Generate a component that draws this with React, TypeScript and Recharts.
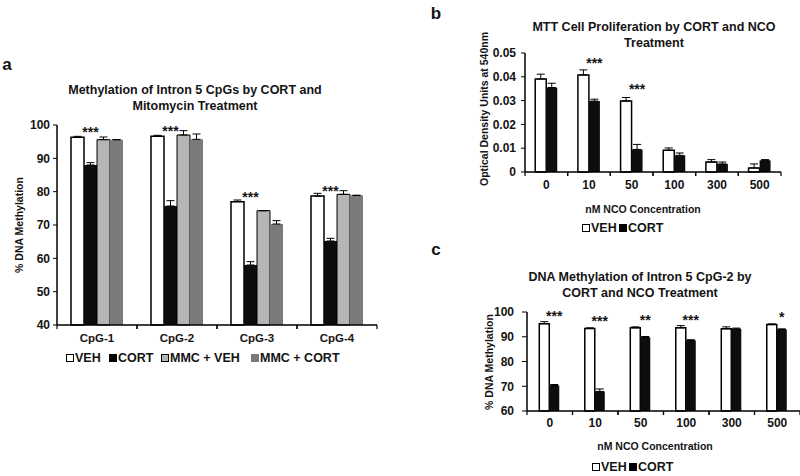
import React from 'react'
import { BarChart, Bar, XAxis, YAxis, ErrorBar, LabelList } from 'recharts'

const FONT = '"Liberation Sans", Arial, sans-serif'
const INK = '#141414'
const LIGHT = '#b5b5b5'
const MID = '#7a7a7a'

// panel a – methylation of intron 5 CpGs
const cpgSites = ['CpG-1', 'CpG-2', 'CpG-3', 'CpG-4']
const vehA = [96.3, 96.6, 77.0, 78.7]
const vehAErr = [0.3, 0.3, 0.5, 0.8]
const cortA = [88.0, 75.7, 58.0, 65.2]
const cortAErr = [0.7, 1.6, 1.0, 0.8]
const mmcVehA = [95.6, 97.0, 74.3, 79.2]
const mmcVehAErr = [0.8, 1.3, 0, 1.1]
const mmcCortA = [95.6, 95.7, 70.3, 78.9]
const mmcCortAErr = [0, 1.6, 1.0, 0]
const sigA = ['***', '***', '***', '***']
const ticksA = [40, 50, 60, 70, 80, 90, 100]

// panel b – MTT proliferation
const ncoDoses = ['0', '10', '50', '100', '300', '500']
const vehB = [0.0391, 0.0408, 0.0298, 0.0091, 0.0042, 0.0017]
const vehBErr = [0.002, 0.0021, 0.0015, 0.001, 0.001, 0.0017]
const cortB = [0.0355, 0.0298, 0.0095, 0.007, 0.0034, 0.0049]
const cortBErr = [0.0018, 0.0008, 0.0021, 0.001, 0.0008, 0.0003]
const sigB = ['', '***', '***', '', '', '']
const ticksB = [0, 0.01, 0.02, 0.03, 0.04, 0.05]

// panel c – CpG-2 methylation with NCO
const vehC = [95.3, 93.3, 93.6, 93.6, 93.2, 94.9]
const vehCErr = [0.8, 0.3, 0.4, 0.9, 0.8, 0.3]
const cortC = [70.3, 67.9, 89.7, 88.5, 93.2, 92.9]
const cortCErr = [0.4, 1.0, 0.4, 0.3, 0.3, 0.3]
const sigC = ['***', '***', '**', '***', '', '*']
const ticksC = [60, 70, 80, 90, 100]

const dataA = cpgSites.map((name, i) => ({
  name,
  veh: vehA[i], vehErr: [0, vehAErr[i]],
  cort: cortA[i], cortErr: [0, cortAErr[i]],
  mmcVeh: mmcVehA[i], mmcVehErr: [0, mmcVehAErr[i]],
  mmcCort: mmcCortA[i], mmcCortErr: [0, mmcCortAErr[i]],
  sig: sigA[i],
}))

const dataB = ncoDoses.map((name, i) => ({
  name,
  veh: vehB[i], vehErr: [0, vehBErr[i]],
  cort: cortB[i], cortErr: [0, cortBErr[i]],
  sig: sigB[i],
}))

const dataC = ncoDoses.map((name, i) => ({
  name,
  veh: vehC[i], vehErr: [0, vehCErr[i]],
  cort: cortC[i], cortErr: [0, cortCErr[i]],
  sig: sigC[i],
}))

// x tick with marks at the category boundaries, like Excel draws them
const BandTick = (props: any) => {
  const { x, y, payload, half, dy, fontSize } = props
  const h = payload && payload.offset ? payload.offset : half
  const top = y - 8
  return (
    <g>
      <line x1={x - h} y1={top} x2={x - h} y2={top + 4} stroke="#000" strokeWidth={1.2} />
      <line x1={x + h} y1={top} x2={x + h} y2={top + 4} stroke="#000" strokeWidth={1.2} />
      <text x={x} y={y} dy={dy} textAnchor="middle" fontSize={fontSize} fontWeight={700} fill={INK} fontFamily={FONT}>
        {payload.value}
      </text>
    </g>
  )
}

// significance stars sit over the CORT bar, keyed off the VEH bar top
const starLabel = (lift: number, size: number) => (props: any) => {
  const { x, y, width, value } = props
  if (!value) return null
  return (
    <text x={x + width * 1.5} y={y - lift} textAnchor="middle" fontSize={size} fontWeight={700} fill={INK} fontFamily={FONT}>
      {value}
    </text>
  )
}

const Label = ({ x, y, size, children, rotate }: any) => (
  <div
    style={{
      position: 'absolute', left: x, top: y, fontSize: size, fontWeight: 700,
      transform: `translate(-50%, -50%)${rotate ? ' rotate(-90deg)' : ''}`,
      whiteSpace: 'nowrap', color: INK, lineHeight: 1.3, textAlign: 'center',
    }}
  >
    {children}
  </div>
)

const Key = ({ x, y, fill, border, text }: any) => (
  <div style={{ position: 'absolute', left: x, top: y, transform: 'translateY(-50%)', display: 'flex', alignItems: 'center', fontSize: 12.5, fontWeight: 700, color: INK, whiteSpace: 'nowrap' }}>
    <span style={{ width: 6, height: 6, background: fill, border: border ? '1.5px solid #000' : `1.5px solid ${fill}`, marginRight: 1 }} />
    {text}
  </div>
)

const yTick = { fontSize: 12, fontWeight: 700, fill: INK, fontFamily: FONT }
const axisLine = { stroke: '#000', strokeWidth: 1.5 }

export default function App() {
  return (
    <div style={{ position: 'absolute', left: 0, top: 0, width: 800, height: 476, background: '#fff', overflow: 'hidden', fontFamily: FONT }}>
      {/* panel a */}
      <div style={{ position: 'absolute', left: 0, top: 0 }}>
        <BarChart width={400} height={360} data={dataA} margin={{ top: 125, right: 23, bottom: 10, left: 17 }} barCategoryGap="17.5%" barGap={0}>
          <XAxis dataKey="name" height={25} axisLine={axisLine} tickLine={false} tickSize={5} tickMargin={3} interval={0}
            tick={<BandTick half={40} dy={9} fontSize={11.5} />} />
          <YAxis width={40} domain={[40, 100]} ticks={ticksA} axisLine={axisLine} tickLine={{ stroke: '#000' }} tickSize={4} tickMargin={3} tick={yTick} />
          <Bar dataKey="veh" fill="#fff" stroke="#000" strokeWidth={1.5} isAnimationActive={false}>
            <ErrorBar dataKey="vehErr" width={4} stroke="#000" strokeWidth={1} />
            <LabelList dataKey="sig" content={starLabel(0, 14)} />
          </Bar>
          <Bar dataKey="cort" fill="#0d0d0d" isAnimationActive={false}>
            <ErrorBar dataKey="cortErr" width={4} stroke="#000" strokeWidth={1} />
          </Bar>
          <Bar dataKey="mmcVeh" fill={LIGHT} stroke="#000" strokeWidth={1} isAnimationActive={false}>
            <ErrorBar dataKey="mmcVehErr" width={4} stroke="#000" strokeWidth={1} />
          </Bar>
          <Bar dataKey="mmcCort" fill={MID} isAnimationActive={false}>
            <ErrorBar dataKey="mmcCortErr" width={4} stroke="#000" strokeWidth={1} />
          </Bar>
        </BarChart>
      </div>
      <Label x={7} y={65} size={17}>a</Label>
      <Label x={195} y={98} size={12.5}>Methylation of Intron 5 CpGs by CORT and<br />Mitomycin Treatment</Label>
      <Label x={20} y={225} size={10.5} rotate>% DNA Methylation</Label>
      <Key x={66} y={358} fill="#fff" border text="VEH" />
      <Key x={109} y={358} fill="#000" text="CORT" />
      <Key x={161} y={358} fill={LIGHT} border text="MMC + VEH" />
      <Key x={251} y={358} fill={MID} text="MMC + CORT" />

      {/* panel b */}
      <div style={{ position: 'absolute', left: 400, top: 0 }}>
        <BarChart width={400} height={200} data={dataB} margin={{ top: 53, right: 19, bottom: 3, left: 85 }} barCategoryGap="24%" barGap={0}>
          <XAxis dataKey="name" height={25} axisLine={axisLine} tickLine={false} tickSize={5} tickMargin={3} interval={0}
            tick={<BandTick half={21.3} dy={9} fontSize={12} />} />
          <YAxis width={40} domain={[0, 0.05]} ticks={ticksB} axisLine={axisLine} tickLine={{ stroke: '#000' }} tickSize={4} tickMargin={5} tick={yTick} />
          <Bar dataKey="veh" fill="#fff" stroke="#000" strokeWidth={1.5} isAnimationActive={false}>
            <ErrorBar dataKey="vehErr" width={4} stroke="#000" strokeWidth={1} />
            <LabelList dataKey="sig" content={starLabel(7, 14)} />
          </Bar>
          <Bar dataKey="cort" fill="#0d0d0d" isAnimationActive={false}>
            <ErrorBar dataKey="cortErr" width={4} stroke="#000" strokeWidth={1} />
          </Bar>
        </BarChart>
      </div>
      <Label x={436} y={14} size={17}>b</Label>
      <Label x={654} y={35} size={12.5}>MTT Cell Proliferation by CORT and NCO<br />Treatment</Label>
      <Label x={485} y={109} size={10.5} rotate>Optical Density Units at 540nm</Label>
      <Label x={643} y={210} size={10.5}>nM NCO Concentration</Label>
      <Key x={582} y={228} fill="#fff" border text="VEH" />
      <Key x={619} y={228} fill="#000" text="CORT" />

      {/* panel c */}
      <div style={{ position: 'absolute', left: 400, top: 240 }}>
        <BarChart width={400} height={200} data={dataC} margin={{ top: 72, right: 0, bottom: 4, left: 87 }} barCategoryGap="27%" barGap={0}>
          <XAxis dataKey="name" height={25} axisLine={axisLine} tickLine={false} tickSize={5} tickMargin={3} interval={0}
            tick={<BandTick half={22.75} dy={8} fontSize={12} />} />
          <YAxis width={40} domain={[60, 100]} ticks={ticksC} axisLine={axisLine} tickLine={{ stroke: '#000' }} tickSize={5} tickMargin={8} tick={yTick} />
          <Bar dataKey="veh" fill="#fff" stroke="#000" strokeWidth={1.5} isAnimationActive={false}>
            <ErrorBar dataKey="vehErr" width={4} stroke="#000" strokeWidth={1} />
            <LabelList dataKey="sig" content={starLabel(2.5, 14)} />
          </Bar>
          <Bar dataKey="cort" fill="#0d0d0d" isAnimationActive={false}>
            <ErrorBar dataKey="cortErr" width={4} stroke="#000" strokeWidth={1} />
          </Bar>
        </BarChart>
      </div>
      <Label x={436} y={250} size={17}>c</Label>
      <Label x={640} y={285} size={12.5}>DNA Methylation of Intron 5 CpG-2 by<br />CORT and NCO Treatment</Label>
      <Label x={490} y={362} size={10.5} rotate>% DNA Methylation</Label>
      <Label x={655} y={447} size={10.5}>nM NCO Concentration</Label>
      <Key x={592} y={467} fill="#fff" border text="VEH" />
      <Key x={629} y={467} fill="#000" text="CORT" />
    </div>
  )
}
